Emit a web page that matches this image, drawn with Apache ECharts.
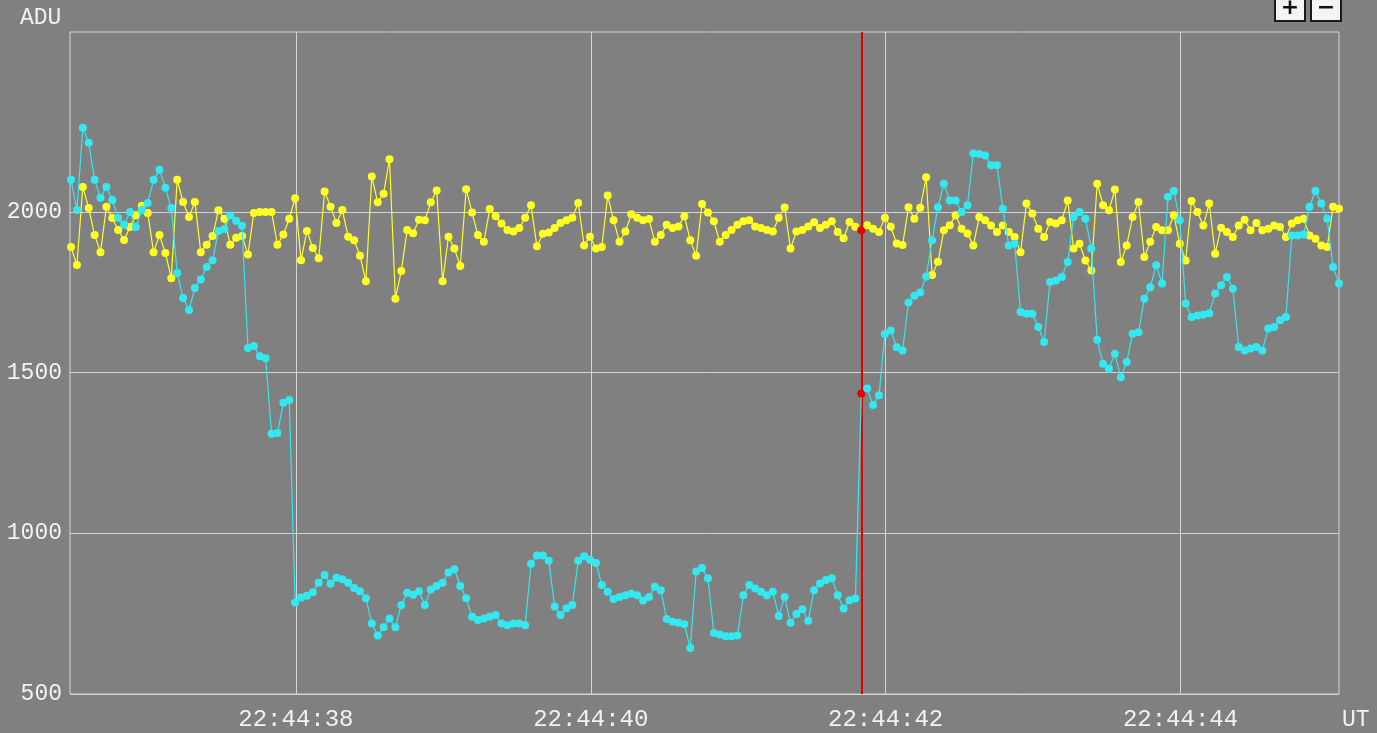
<!DOCTYPE html>
<html>
<head>
<meta charset="utf-8">
<style>
  html, body { margin: 0; padding: 0; background: #808080; }
  #chart { width: 1377px; height: 733px; }
</style>
<script src="https://cdn.jsdelivr.net/npm/echarts@6/dist/echarts.min.js"></script>
</head>
<body>
<div id="chart"></div>
<script>
// Sampling: one frame every 0.04 s starting at 22:44:36.475 UT
const T0 = 36.475;
const DT = 0.04;

// Yellow series (ADU)
const yellow = [
  1891, 1835, 2078, 2012, 1928, 1875, 2016, 1981, 1944, 1913, 1953, 1990, 2019, 1997, 1875, 1928, 1872, 1794, 2100, 2031, 1984, 2031, 1875,
  1898, 1925, 2005, 1979, 1898, 1920, 1925, 1868, 1997, 2000, 2000, 2000, 1898, 1930, 1979, 2043, 1850, 1941, 1888, 1856, 2064, 2016,
  1966, 2006, 1923, 1912, 1864, 1784, 2110, 2030, 2057, 2164, 1730, 1816, 1944, 1934, 1976, 1974, 2030, 2067, 1784, 1923, 1886, 1832,
  2071, 1998, 1928, 1907, 2009, 1987, 1964, 1944, 1939, 1950, 1982, 2021, 1893, 1932, 1936, 1950, 1966, 1974, 1982, 2028, 1896,
  1923, 1886, 1891, 2051, 1974, 1907, 1939, 1993, 1982, 1974, 1978, 1907, 1928, 1960, 1950, 1955, 1987, 1912, 1864, 2025, 1998,
  1971, 1907, 1928, 1944, 1960, 1971, 1974, 1955, 1950, 1944, 1939, 1982, 2014, 1886, 1939, 1944, 1955, 1968, 1950, 1960, 1971,
  1938, 1918, 1969, 1954, 1943, 1959, 1948, 1938, 1982, 1954, 1902, 1897, 2015, 1979, 2013, 2108, 1804, 1845, 1943, 1959, 1990,
  1948, 1933, 1896, 1984, 1974, 1958, 1938, 1958, 1938, 1922, 1875, 2026, 1995, 1948, 1922, 1969, 1964, 1974, 2036, 1886, 1901, 1849,
  1818, 2088, 2021, 2005, 2070, 1844, 1896, 1984, 2031, 1860, 1907, 1953, 1943, 1943, 1990, 1901, 1849, 2034, 2000, 1958, 2026, 1870,
  1951, 1938, 1922, 1958, 1976, 1943, 1966, 1943, 1948, 1958, 1953, 1922, 1964, 1974, 1979, 1927, 1917, 1896, 1891, 2016, 2010
];

// Cyan series (ADU)
const cyan = [
  2100, 2006, 2262, 2215, 2100, 2044, 2078, 2037, 1981, 1960, 2000, 1953, 2006, 2028, 2100, 2131, 2075, 2012, 1810, 1732, 1695, 1763, 1790,
  1829, 1850, 1941, 1947, 1989, 1973, 1957, 1577, 1583, 1551, 1545, 1310, 1312, 1406, 1415, 785, 800, 806, 817, 846, 870, 843,
  862, 857, 846, 830, 820, 798, 719, 682, 708, 735, 708, 777, 815, 809, 820, 777, 825, 836, 846, 878, 888, 836,
  798, 740, 730, 735, 740, 746, 719, 714, 719, 719, 714, 905, 931, 931, 915, 772, 746, 767, 777, 915, 929,
  918, 908, 839, 818, 796, 802, 807, 812, 807, 791, 802, 834, 823, 733, 725, 722, 717, 643, 881, 892, 860,
  690, 685, 680, 680, 682, 807, 839, 828, 818, 807, 818, 743, 802, 722, 749, 764, 728, 823, 844, 855, 860,
  807, 766, 792, 797, 1435, 1451, 1399, 1430, 1620, 1631, 1579, 1569, 1718, 1739, 1749, 1799, 1912, 2015, 2088, 2036, 2036,
  2000, 2021, 2182, 2180, 2176, 2145, 2145, 2010, 1896, 1901, 1689, 1683, 1683, 1642, 1595, 1782, 1787, 1798, 1844, 1984, 2000, 1979,
  1886, 1602, 1528, 1512, 1559, 1486, 1533, 1621, 1626, 1730, 1766, 1834, 1777, 2047, 2065, 1974, 1715, 1673, 1678, 1680, 1685, 1746,
  1772, 1798, 1761, 1580, 1569, 1575, 1580, 1569, 1637, 1642, 1663, 1673, 1927, 1927, 1930, 2016, 2065, 2026, 1979, 1829, 1777
];

// Cursor (red) frame index
const cursorIndex = 134;

// Axis ticks
const xTickSeconds = [38, 40, 42, 44];
const xTickPrefix = '22:44:';
const yTicks = [500, 1000, 1500, 2000];
const xRange = [36.468, 45.075];
const yRange = [500, 2560];

const times = yellow.map((_, i) => +(T0 + i * DT).toFixed(3));

const FONT = "'Liberation Mono', 'DejaVu Sans Mono', monospace";
const TEXT = '#f2f2f2';
const GRID = '#d4d4d4';
const RED = '#e80000';

function build(values) {
  return values.map((v, i) => {
    if (i === cursorIndex) {
      return { value: [times[i], v], itemStyle: { color: RED } };
    }
    return [times[i], v];
  });
}

const chart = echarts.init(document.getElementById('chart'), null, { renderer: 'canvas' });

chart.setOption({
  animation: false,
  backgroundColor: '#808080',
  grid: {
    left: 70, right: 38, top: 32, bottom: 39,
    containLabel: false, outerBoundsMode: 'none',
    show: true, borderColor: GRID, borderWidth: 1, backgroundColor: 'transparent'
  },
  xAxis: {
    type: 'value',
    min: xRange[0], max: xRange[1],
    axisLine: { show: false },
    axisTick: { show: false, customValues: xTickSeconds },
    splitLine: { show: true, lineStyle: { color: GRID, width: 1 } },
    axisLabel: {
      customValues: xTickSeconds,
      formatter: v => xTickPrefix + String(Math.round(v)).padStart(2, '0'),
      color: TEXT, fontFamily: FONT, fontSize: 24, margin: 14
    }
  },
  yAxis: {
    type: 'value',
    min: yRange[0], max: yRange[1],
    axisLine: { show: false },
    axisTick: { show: false, customValues: yTicks },
    splitLine: { show: true, lineStyle: { color: GRID, width: 1 } },
    axisLabel: {
      customValues: yTicks,
      formatter: v => String(v),
      color: TEXT, fontFamily: FONT, fontSize: 23, margin: 8
    }
  },
  series: [
    {
      name: 'yellow', type: 'line',
      data: build(yellow),
      symbol: 'circle', symbolSize: 8,
      lineStyle: { color: '#ffff22', width: 1.2 },
      itemStyle: { color: '#ffff22' },
      z: 2
    },
    {
      name: 'cyan', type: 'line',
      data: build(cyan),
      symbol: 'circle', symbolSize: 8,
      lineStyle: { color: '#33e8f0', width: 1.2 },
      itemStyle: { color: '#33e8f0' },
      z: 3,
      markLine: {
        silent: true, symbol: 'none',
        label: { show: false },
        lineStyle: { color: RED, width: 2, type: 'solid' },
        data: [{ xAxis: times[cursorIndex] }],
        z: 1
      }
    }
  ],
  graphic: [
    { type: 'text', left: 20, top: 6, style: { text: 'ADU', fill: TEXT, font: "23px " + FONT } },
    { type: 'text', left: 1342, top: 708, style: { text: 'UT', fill: TEXT, font: "23px " + FONT } },
    { type: 'rect', shape: { x: 1275, y: -6, width: 30, height: 27 }, style: { fill: '#f4f4f4', stroke: '#1a1a1a', lineWidth: 2 } },
    { type: 'text', x: 1290, y: 8, style: { text: '+', fill: '#111', font: "bold 22px 'DejaVu Sans', sans-serif", align: 'center', verticalAlign: 'middle' } },
    { type: 'rect', shape: { x: 1311, y: -6, width: 30, height: 27 }, style: { fill: '#f4f4f4', stroke: '#1a1a1a', lineWidth: 2 } },
    { type: 'text', x: 1326, y: 8, style: { text: '\u2212', fill: '#111', font: "bold 22px 'DejaVu Sans', sans-serif", align: 'center', verticalAlign: 'middle' } }
  ]
});
</script>
</body>
</html>
